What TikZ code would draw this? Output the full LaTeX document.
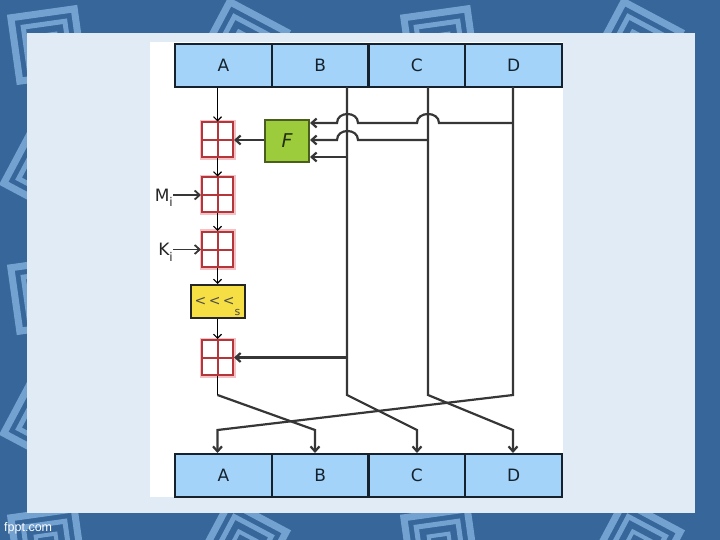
\documentclass[tikz,border=0pt]{standalone}
\usepackage{fontspec}
\setmainfont{DejaVu Sans}
\newfontfamily\arialfont{Liberation Sans}
\usetikzlibrary{arrows.meta}
\definecolor{bgblue}{HTML}{36669A}
\definecolor{panelc}{HTML}{E1EBF5}
\definecolor{regfill}{HTML}{A3D3F8}
\definecolor{regline}{HTML}{15222E}
\definecolor{redbox}{HTML}{B5363A}
\definecolor{pinkhalo}{HTML}{F4C2C4}
\definecolor{fgreen}{HTML}{9CCB3B}
\definecolor{fgreenline}{HTML}{4A5E1E}
\definecolor{yel}{HTML}{F6DE45}
\definecolor{wirec}{HTML}{363636}
\definecolor{decoc}{HTML}{88B5E3}
\tikzset{
  reg/.style={draw=regline, fill=regfill, line width=2pt, minimum width=96.75pt, minimum height=43pt, inner sep=0pt, font=\fontsize{17}{17}\selectfont, text=regline},
  addbox/.style={draw=redbox, fill=white, line width=2pt, minimum width=31pt, minimum height=35pt, inner sep=0pt,
    preaction={draw=pinkhalo, line width=5pt}},
  cross/.style={draw=redbox, line width=2pt},
  fbox/.style={draw=fgreenline, fill=fgreen, line width=2pt, minimum width=44pt, minimum height=42pt, inner sep=0pt, font=\fontsize{19}{19}\selectfont\itshape, text=fgreenline!50!black},
  rotbox/.style={draw=black!85, fill=yel, line width=2pt, minimum width=54pt, minimum height=33pt, inner sep=0pt, font=\fontsize{14}{14}\selectfont, text=black!70},
  lbl/.style={font=\fontsize{17}{17}\selectfont, text=black!85, inner sep=0pt, anchor=east},
  thin/.style={draw=black, line width=1.1pt, -{Straight Barb[length=4pt,width=8pt]}},
  wire/.style={draw=wirec, line width=2.2pt},
  wirearr/.style={wire, -{Straight Barb[length=5pt,width=9pt]}},
  decosq/.pic={
    \draw[decoc, line width=7pt] (-32,-32) rectangle (32,32);
    \draw[decoc, line width=5pt] (-21,-21) rectangle (21,21);
    \draw[decoc, line width=4pt] (-10,-10) rectangle (10,10);
  }
}
\begin{document}
\begin{tikzpicture}[x=1pt,y=-1pt]
\useasboundingbox (0,0) rectangle (720,540);
\fill[bgblue] (0,0) rectangle (720,540);
% decorative background
\foreach \yy [count=\j] in {45,170,295,420,545} {
  \foreach \xx [count=\i] in {47,243,440,637} {
    \pgfmathsetmacro{\ang}{mod(\i+\j,2)==0 ? 8 : -28}
    \pic[opacity=0.75, rotate=\ang] at (\xx,\yy) {decosq};
  }
}
\fill[panelc] (27,33) rectangle (695,513);
\fill[white] (150,42) rectangle (563,497);
\node[font=\arialfont\fontsize{12.5}{12.5}\selectfont, text=white, anchor=west, inner sep=0pt] (fppt) at (4,528) {fppt.com};

% registers
\node[reg] (tA) at (223.4,65.5) {A};
\node[reg] (tB) at (320.1,65.5) {B};
\node[reg] (tC) at (416.9,65.5) {C};
\node[reg] (tD) at (513.6,65.5) {D};
\node[reg] (bA) at (223.4,475.5) {A};
\node[reg] (bB) at (320.1,475.5) {B};
\node[reg] (bC) at (416.9,475.5) {C};
\node[reg] (bD) at (513.6,475.5) {D};

% left chain
\node[addbox] (r1) at (217.5,140) {};
\node[addbox] (r2) at (217.5,195) {};
\node[addbox] (r3) at (217.5,249.5) {};
\node[rotbox] (yb) at (217.5,301.5) {<\,<\,<\smash{\raisebox{-1.3ex}{\fontsize{11}{11}\selectfont s}}};
\node[addbox] (r4) at (217.5,357.5) {};
\foreach \n in {r1,r2,r3,r4} {
  \draw[cross] (\n.north) -- (\n.south) (\n.west) -- (\n.east);
}
\node[fbox] (fb) at (287,141) {F};
\node[lbl] (mi) at (173,195) {M\smash{\raisebox{-0.6ex}{\fontsize{12}{12}\selectfont i}}};
\node[lbl] (ki) at (173,249.5) {K\smash{\raisebox{-0.6ex}{\fontsize{12}{12}\selectfont i}}};

\draw[thin] (r1.north |- tA.south) -- (r1.north);
\draw[thin] (r1.south) -- (r2.north);
\draw[thin] (r2.south) -- (r3.north);
\draw[thin] (r3.south) -- (yb.north);
\draw[thin] (yb.south) -- (r4.north);
\draw[wirearr, line width=1.8pt] (mi.east) -- (r2.west);
\draw[wirearr, line width=1.8pt] (ki.east) -- (r3.west);
\draw[wirearr] (fb.west |- r1.east) -- (r1.east);

% wire coordinates
\coordinate (bt) at (347,87);
\coordinate (bb) at (347,395);
\coordinate (ct) at (428,87);
\coordinate (cb) at (428,395);
\coordinate (dt) at (513,87);
\coordinate (db) at (513,395);
\coordinate (ab) at (217.5,395);
\coordinate (a2) at (315,430);
\coordinate (b2) at (417,430);
\coordinate (c2) at (513,430);
\coordinate (d2) at (217.5,430);
\coordinate (dfeed) at (513,123);
\coordinate (cfeed) at (428,140);
\coordinate (bfeed) at (347,157);
\coordinate (bsum) at (347,357.5);

% feeds into F with hops
\draw[wirearr] (dfeed) -- (439,123) .. controls (439,111) and (417,111) .. (417,123)
  -- (358,123) .. controls (358,111) and (337,111) .. (337,123) -- (fb.east |- dfeed);
\draw[wirearr] (cfeed) -- (358,140) .. controls (358,128) and (337,128) .. (337,140) -- (fb.east |- cfeed);
\draw[wirearr] (bfeed) -- (fb.east |- bfeed);
\draw[wirearr] (bsum) -- (r4.east);

% verticals and permutation
\draw[draw=black, line width=1.1pt] (r4.south) -- (ab);
\draw[wirearr] (ab) -- (a2) -- (a2 |- bB.north);
\draw[wirearr] (bt) -- (bb) -- (b2) -- (b2 |- bC.north);
\draw[wirearr] (ct) -- (cb) -- (c2) -- (c2 |- bD.north);
\draw[wirearr] (dt) -- (db) -- (d2) -- (d2 |- bA.north);
\end{tikzpicture}
\end{document}
